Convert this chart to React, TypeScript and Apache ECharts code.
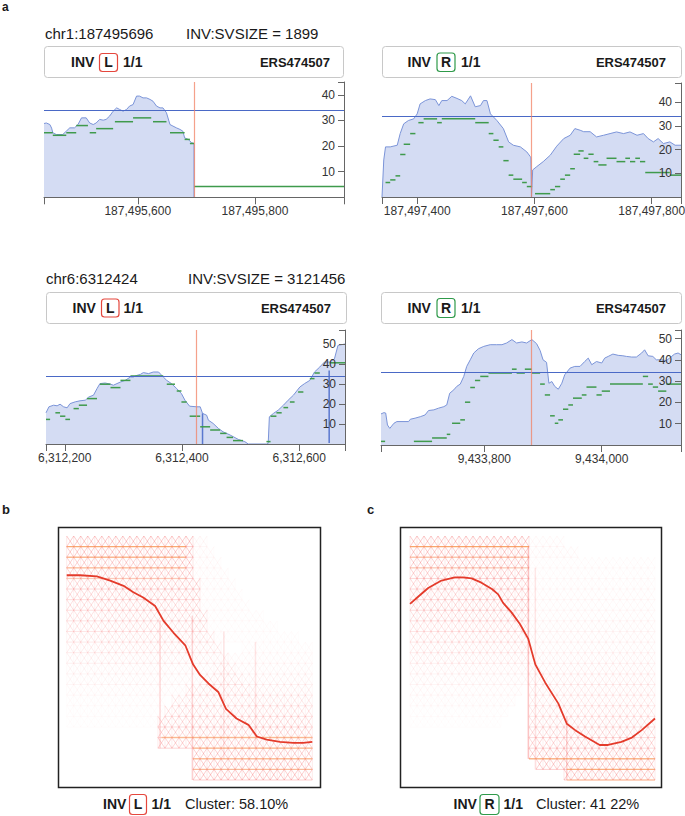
import React, { useEffect, useRef } from "react";
import * as echarts from "echarts";

const FONT = '"Liberation Sans", Arial, Helvetica, sans-serif';

// ---------------- Panel a: four read-depth plots ----------------
const regionStart = [187495440, 187497340, 6312168, 9433624];
const regionEnd = [187495952, 187497850, 6312678, 9434135];
const depthMax = [45, 48, 57, 54];
const meanDepth = [33.9, 33.9, 34.0, 34.2];
const breakpoint = [187495696, 187497595, 6312424, 9433880];
const xTickLabels = [
  [187495600, 187495800],
  [187497400, 187497600, 187497800],
  [6312200, 6312400, 6312600],
  [9433800, 9434000],
];
const yTickLabels = [
  [10, 20, 30, 40],
  [10, 20, 30, 40],
  [10, 20, 30, 40, 50],
  [10, 20, 30, 40, 50],
];
const titles = ["chr1:187495696", "chr6:6312424"];
const svsizes = ["INV:SVSIZE = 1899", "INV:SVSIZE = 3121456"];
const sides = ["L", "R", "L", "R"];
const sampleName = "ERS474507";
const genotype = "1/1";

// coverage: [offset from region start (bp), depth]
const coverage1 = [
  [0, 28.8], [4, 29.0], [10, 28.4], [13, 27.0], [15, 25.2], [21, 24.5], [32, 24.5], [38, 25.8],
  [44, 27.1], [52, 27.1], [58, 28.4], [64, 31.0], [72, 31.0], [78, 29.0], [84, 28.4], [89, 29.0],
  [95, 30.4], [101, 30.1], [106, 30.4], [112, 31.7], [118, 33.6], [124, 34.9], [129, 34.3], [135, 33.6],
  [141, 34.3], [146, 35.6], [152, 36.2], [158, 39.5], [163, 39.5], [169, 38.8], [175, 38.8], [181, 38.2],
  [186, 37.5], [192, 35.6], [198, 34.9], [203, 34.9], [209, 33.0], [215, 28.4], [220, 27.8], [226, 27.1],
  [232, 26.5], [237, 25.8], [240, 23.2], [246, 22.6], [252, 21.3], [256, 21.0], [256, 0],
];
const coverage2 = [
  [0, 0], [3, 15.6], [6, 21.1], [14, 21.1], [26, 21.8], [31, 26.7], [37, 30.8], [45, 32.2],
  [54, 32.9], [60, 35.0], [65, 39.2], [74, 40.6], [82, 41.3], [91, 41.0], [97, 38.5], [102, 40.6],
  [111, 40.6], [119, 42.4], [128, 41.5], [136, 40.6], [142, 39.2], [151, 42.6], [159, 38.0], [168, 38.5],
  [173, 40.6], [179, 40.6], [185, 35.0], [196, 32.2], [207, 28.8], [216, 23.2], [224, 21.8], [236, 21.1],
  [247, 19.0], [253, 17.0], [254, 16.5], [255, 0], [257, 11.4], [264, 12.8], [275, 14.9], [287, 17.6],
  [298, 21.4], [310, 24.6], [321, 26.0], [329, 28.8], [338, 28.1], [344, 27.5], [355, 27.5], [366, 25.3],
  [378, 26.0], [389, 26.7], [400, 27.4], [412, 26.7], [423, 27.4], [435, 26.0], [446, 26.7], [454, 24.6],
  [463, 23.2], [471, 24.6], [480, 22.5], [491, 23.2], [500, 21.8], [510, 21.8],
];
const coverage3 = [
  [0, 15.6], [5, 18.6], [13, 19.4], [19, 19.1], [24, 19.9], [30, 18.6], [36, 18.1], [41, 20.2],
  [50, 21.1], [58, 21.6], [67, 21.9], [73, 23.5], [81, 24.4], [87, 27.7], [92, 30.2], [101, 30.5],
  [110, 29.9], [115, 29.4], [121, 30.2], [127, 31.0], [135, 31.8], [144, 33.5], [149, 33.5], [155, 34.3],
  [161, 34.8], [166, 35.7], [175, 35.2], [183, 36.0], [192, 36.0], [200, 33.5], [206, 31.8], [214, 30.2],
  [223, 27.7], [231, 25.2], [237, 21.9], [245, 18.9], [257, 18.6], [263, 18.6], [267, 15.3], [274, 14.4],
  [277, 11.9], [285, 10.3], [294, 7.8], [302, 6.1], [314, 4.5], [328, 2.3], [339, 1.2], [345, 0],
  [376, 0], [379, 0.3], [381, 13.6], [388, 15.3], [396, 16.9], [405, 19.4], [413, 21.9], [422, 24.4],
  [433, 28.5], [441, 30.2], [450, 31.8], [458, 36.0], [467, 38.5], [475, 41.0], [484, 41.0], [492, 42.6],
  [498, 49.3], [510, 50.0],
];
const coverage4 = [
  [0, 14.6], [5, 15.2], [8, 15.0], [11, 9.4], [15, 7.8], [22, 10.2], [27, 11.0], [47, 11.0],
  [50, 12.1], [58, 12.6], [67, 13.3], [75, 14.1], [81, 16.2], [90, 16.5], [98, 17.3], [107, 18.0],
  [112, 18.8], [117, 24.3], [124, 25.9], [129, 27.5], [135, 28.6], [141, 32.2], [146, 36.9], [152, 40.0],
  [158, 43.2], [166, 45.2], [175, 46.3], [186, 47.1], [197, 47.1], [206, 47.1], [214, 47.9], [223, 49.5],
  [231, 47.9], [240, 48.4], [248, 47.9], [257, 49.5], [265, 47.6], [271, 44.4], [276, 40.0], [282, 38.8],
  [286, 29.0], [291, 29.8], [296, 27.5], [302, 26.2], [308, 29.0], [313, 33.0], [322, 36.1], [330, 36.9],
  [339, 36.9], [347, 39.2], [353, 40.8], [359, 37.7], [367, 39.2], [376, 38.5], [381, 40.8], [387, 41.6],
  [395, 42.7], [404, 42.1], [412, 41.9], [418, 41.6], [427, 41.3], [435, 41.3], [444, 43.2], [449, 44.7],
  [455, 41.9], [463, 41.6], [469, 40.0], [478, 40.0], [486, 39.6], [495, 41.6], [500, 42.7], [506, 43.2],
  [511, 42.4],
];
const coverages = [coverage1, coverage2, coverage3, coverage4];

// green split-read segments: [start offset, end offset, level]
const segments1 = [
  [0, 15, 25.2], [15, 38, 24.2], [38, 55, 25.2], [55, 75, 28.0], [78, 89, 25.2], [89, 118, 26.8],
  [121, 152, 29.5], [152, 183, 31.0], [186, 209, 29.5], [215, 240, 25.2], [240, 249, 22.6], [249, 256, 21.0],
  [256, 512, 4.2],
];
const segments2 = [
  [6, 14, 6.1], [14, 23, 7.2], [23, 31, 8.9], [31, 40, 17.9], [37, 48, 22.2], [48, 57, 26.7],
  [62, 71, 31.3], [71, 94, 32.9], [94, 102, 31.3], [102, 159, 32.9], [159, 182, 31.3], [182, 190, 26.7],
  [190, 199, 23.9], [199, 207, 21.1], [207, 216, 15.3], [216, 224, 9.2], [224, 239, 7.5], [239, 247, 6.1],
  [247, 256, 4.4], [261, 287, 1.4], [287, 295, 3.1], [295, 304, 4.4], [304, 312, 7.5], [312, 321, 9.2],
  [321, 329, 11.9], [327, 338, 18.0], [335, 344, 19.4], [344, 352, 16.3], [352, 361, 18.0], [361, 369, 14.9],
  [369, 383, 13.5], [383, 400, 16.3], [400, 415, 14.9], [415, 423, 16.3], [423, 432, 14.9], [432, 440, 16.3],
  [440, 449, 14.9], [449, 477, 10.3], [477, 491, 10.3], [491, 510, 9.2],
];
const segments3 = [
  [0, 7, 12.3], [16, 24, 15.6], [24, 33, 13.9], [33, 41, 12.3], [47, 56, 17.7], [56, 70, 19.4],
  [70, 87, 22.7], [92, 110, 29.9], [110, 127, 28.2], [127, 144, 31.8], [144, 200, 34.0], [206, 220, 29.9],
  [223, 231, 26.5], [231, 240, 21.0], [245, 263, 13.9], [263, 280, 8.6], [280, 297, 7.0], [297, 308, 5.3],
  [308, 319, 3.3], [319, 336, 1.7], [376, 383, 1.2], [383, 393, 13.9], [393, 402, 15.6], [405, 413, 18.2],
  [416, 424, 21.0], [430, 439, 26.0], [450, 458, 32.7], [458, 467, 35.5], [484, 510, 40.6],
];
const segments4 = [
  [0, 7, 1.7], [56, 87, 1.7], [87, 112, 3.3], [112, 118, 5.0], [121, 135, 10.2], [135, 143, 11.8],
  [143, 152, 20.1], [152, 160, 27.0], [160, 169, 30.3], [169, 183, 32.2], [183, 223, 33.8], [223, 231, 35.6],
  [231, 245, 33.8], [245, 257, 35.6], [257, 271, 33.8], [271, 279, 28.6], [279, 288, 23.5], [288, 296, 13.7],
  [296, 302, 10.2], [302, 310, 11.8], [310, 319, 16.8], [319, 327, 18.8], [327, 342, 22.0], [342, 350, 23.5],
  [350, 367, 27.2], [367, 376, 23.5], [376, 390, 25.3], [390, 446, 28.6], [446, 455, 32.2], [455, 463, 28.6],
  [463, 472, 27.2], [472, 486, 25.3], [486, 511, 28.6],
];
const segmentsAll = [segments1, segments2, segments3, segments4];

// dark blue vertical depth strokes in the chr6 left plot: [offset, from, to]
const depthBars3 = [[267, 0, 15.3], [483, 0.5, 36.8]];

// ---------------- Panels b and c: read-depth cluster profiles ----------------
const clusterLabels = ["Cluster: 58.10%", "Cluster: 41 22%"];
// mean cluster profile: [position, level]
const meanProfileB = [
  [0, 19.3], [1.9, 19.3], [4.3, 19.2], [6.2, 18.8], [8.1, 18.3], [9.5, 17.7], [10.9, 17.2], [12.6, 16.4],
  [13.8, 15.0], [15.2, 13.9], [16.9, 12.7], [18.0, 10.9], [19.0, 9.9], [20.2, 9.1], [21.6, 8.3], [22.7, 6.7],
  [24.2, 5.8], [25.9, 5.2], [27.1, 4.1], [28.5, 3.8], [30.4, 3.6], [32.3, 3.5], [33.7, 3.5], [35, 3.6],
];
const meanProfileC = [
  [0, 16.6], [1.2, 17.3], [2.6, 18.1], [4.5, 18.8], [6.4, 19.1], [7.6, 19.1], [8.8, 19.0], [10.2, 18.6],
  [11.7, 18.0], [12.6, 17.5], [13.3, 16.7], [14.5, 15.8], [15.7, 14.7], [16.9, 13.3], [17.9, 10.9], [19.3, 9.2],
  [21.2, 7.2], [22.4, 5.3], [23.6, 4.7], [25, 4.1], [27.1, 3.3], [28.3, 3.3], [30.2, 3.6], [31.7, 4.0],
  [33.1, 4.7], [35, 5.8],
];
// member profile density bands: [level, from, to, density]
const bandsB = [
  [22, 0, 18, 0.28], [21, 0, 18, 0.28], [20, 0, 18, 0.26], [19, 0, 18, 0.24], [18, 0, 19, 0.22], [17, 0, 19, 0.2],
  [16, 0, 19, 0.18], [15, 0, 20, 0.16], [14, 0, 20, 0.14], [13, 0, 21, 0.12], [12, 0, 22, 0.1], [11, 0, 23, 0.08],
  [10, 0, 24, 0.06], [9, 0, 25, 0.05], [8, 0, 26, 0.04], [7, 0, 14, 0.03], [6, 0, 14, 0.025], [5, 0, 14, 0.02],
  [22, 18, 20, 0.05], [21, 18, 21, 0.04], [20, 18, 22, 0.04], [19, 18, 23, 0.035], [18, 19, 24, 0.035],
  [17, 19, 25, 0.03], [16, 19, 26, 0.03], [15, 20, 28, 0.03], [14, 20, 30, 0.025], [13, 21, 33, 0.025],
  [0, 18, 35, 0.28], [1, 18, 35, 0.28], [2, 18, 35, 0.26], [3, 13, 35, 0.24], [4, 13, 35, 0.21], [5, 13, 35, 0.18],
  [6, 14, 35, 0.15], [7, 15, 35, 0.12], [8, 17, 35, 0.09], [9, 19, 35, 0.07], [10, 21, 35, 0.05], [11, 23, 35, 0.04],
  [12, 25, 35, 0.03],
];
const bandsC = [
  [22, 0, 17, 0.28], [21, 0, 17, 0.28], [20, 0, 17, 0.26], [19, 0, 17, 0.24], [18, 0, 17, 0.22], [17, 0, 17, 0.2],
  [16, 0, 17, 0.19], [15, 0, 17, 0.17], [14, 0, 17, 0.15], [13, 0, 17, 0.13], [12, 0, 17, 0.11], [11, 0, 17, 0.09],
  [10, 0, 17, 0.07], [9, 0, 17, 0.055], [8, 0, 16, 0.045], [7, 0, 15, 0.035], [6, 0, 14, 0.025], [5, 0, 13, 0.02],
  [22, 17, 22, 0.04], [21, 17, 24, 0.04], [20, 17, 35, 0.03], [19, 17, 35, 0.03], [18, 17, 35, 0.035],
  [17, 17, 35, 0.04], [16, 17, 35, 0.04], [15, 17, 35, 0.045], [14, 17, 35, 0.05], [13, 17, 35, 0.055],
  [12, 17, 35, 0.06], [11, 17, 35, 0.07], [10, 17, 35, 0.08],
  [0, 22, 35, 0.28], [1, 18, 35, 0.27], [2, 17, 35, 0.25], [3, 17, 35, 0.22], [4, 17, 35, 0.19], [5, 17, 35, 0.16],
  [6, 17, 35, 0.13], [7, 17, 35, 0.11], [8, 17, 35, 0.1], [9, 17, 35, 0.09],
];
// frequent exact profiles (orange): [level, from, to, weight]
const plateausB = [
  [22, 0, 17, 0.7], [21, 0, 17, 0.5], [20, 0, 17, 0.45], [19, 0, 17, 0.2],
  [4, 13.5, 35, 0.5], [3, 18, 35, 0.55], [2, 18, 35, 0.45], [1, 18, 35, 0.4],
];
const plateausC = [
  [22, 0, 17, 0.75], [21, 0, 17, 0.3], [20, 0, 17, 0.25],
  [2, 17, 35, 0.55], [1, 22.4, 35, 0.6], [0, 22.4, 35, 0.35],
];
// vertical jumps: [position, from, to, weight]
const jumpsB = [[13.3, 3, 15, 0.22], [17.9, 0, 15.5, 0.22], [22.4, 2, 14, 0.16], [26.9, 3, 13, 0.13]];
const jumpsC = [[16.9, 2, 22, 0.3], [17.9, 1, 20, 0.13], [22.4, 0, 6, 0.25]];
const profileXMax = 35;
const profileYMax = 23;

// ---------------- helpers ----------------
const fmtThousands = (v: number) => String(Math.round(v)).replace(/\B(?=(\d{3})+(?!\d))/g, ",");

const segRender = (color: string, width: number) => (params: any, api: any) => {
  const p1 = api.coord([api.value(0), api.value(1)]);
  const p2 = api.coord([api.value(2), api.value(3)]);
  return {
    type: "line",
    shape: { x1: p1[0], y1: p1[1], x2: p2[0], y2: p2[1] },
    style: { stroke: color, lineWidth: width },
  };
};

const HATCH = "245,80,80";
const hatchRender = (params: any, api: any) => {
  const k = api.value(0);
  const xs = api.value(1);
  const xe = api.value(2);
  const a = api.value(3);
  const stroke = `rgba(${HATCH},${a})`;
  const i0 = Math.ceil(xs);
  const i1 = Math.floor(xe);
  let d = "";
  const h1 = api.coord([xs, k]);
  const h2 = api.coord([xe, k]);
  d += `M${h1[0]} ${h1[1]}L${h2[0]} ${h2[1]}`;
  for (let i = i0; i < i1; i++) {
    const a0 = api.coord([i, k]);
    const a1 = api.coord([i + 1, k + 1]);
    const b0 = api.coord([i, k + 1]);
    const b1 = api.coord([i + 1, k]);
    d += `M${a0[0]} ${a0[1]}L${a1[0]} ${a1[1]}M${b0[0]} ${b0[1]}L${b1[0]} ${b1[1]}`;
  }
  let dv = "";
  for (let i = i0; i <= i1; i++) {
    const v0 = api.coord([i, k]);
    const v1 = api.coord([i, k + 1]);
    dv += `M${v0[0]} ${v0[1]}L${v1[0]} ${v1[1]}`;
  }
  return {
    type: "group",
    children: [
      { type: "path", shape: { pathData: d }, style: { stroke, lineWidth: 1, fill: "none" } },
      { type: "path", shape: { pathData: dv }, style: { stroke: `rgba(${HATCH},${a * 0.45})`, lineWidth: 1, fill: "none" } },
    ],
  };
};

const plateauRender = (params: any, api: any) => {
  const k = api.value(0);
  const p1 = api.coord([api.value(1), k]);
  const p2 = api.coord([api.value(2), k]);
  return {
    type: "line",
    shape: { x1: p1[0], y1: p1[1], x2: p2[0], y2: p2[1] },
    style: { stroke: `rgba(248,150,75,${api.value(3)})`, lineWidth: 1.4 },
  };
};

const jumpRender = (params: any, api: any) => {
  const x = api.value(0);
  const p1 = api.coord([x, api.value(1)]);
  const p2 = api.coord([x, api.value(2)]);
  return {
    type: "line",
    shape: { x1: p1[0], y1: p1[1], x2: p2[0], y2: p2[1] },
    style: { stroke: `rgba(${HATCH},${api.value(3)})`, lineWidth: 1.5 },
  };
};

const txt = (text: string, x: number, y: number, size: number, weight: string, align = "left", color = "#1a1a1a") => ({
  type: "text",
  x,
  y,
  silent: true,
  z: 20,
  style: { text, fill: color, fontSize: size, fontWeight: weight, fontFamily: FONT, align, verticalAlign: "middle" },
});
const box = (x: number, y: number, w: number, h: number, stroke: string, lw = 1) => ({
  type: "rect",
  silent: true,
  z: 20,
  shape: { x, y, width: w, height: h, r: 3 },
  style: { fill: "none", stroke, lineWidth: lw },
});

export default function App() {
  const ref = useRef<HTMLDivElement>(null);
  useEffect(() => {
    if (!ref.current) return;
    const chart = echarts.init(ref.current, undefined, { renderer: "svg" });

    const gridRects = [
      { left: 44, top: 82, width: 300, height: 115.3 },
      { left: 382, top: 83, width: 299, height: 114 },
      { left: 46, top: 330, width: 299, height: 114 },
      { left: 381, top: 330, width: 300, height: 115 },
      { left: 66.7, top: 536, width: 245.6, height: 244 },
      { left: 410, top: 536, width: 245, height: 244 },
    ];
    const grid = gridRects.map((g) => ({ ...g, containLabel: false, outerBoundsMode: "none", show: false }));

    const axisColor = "#666";
    const xAxis: any[] = [];
    const yAxis: any[] = [];
    const series: any[] = [];

    for (let i = 0; i < 4; i++) {
      xAxis.push({
        type: "value",
        gridIndex: i,
        min: regionStart[i],
        max: regionEnd[i],
        position: "bottom",
        z: 10,
        axisLine: { show: true, onZero: false, lineStyle: { color: axisColor, width: 1 } },
        axisTick: {
          show: true,
          length: 7,
          lineStyle: { color: axisColor },
          customValues: [regionStart[i], ...xTickLabels[i], regionEnd[i]],
        },
        axisLabel: {
          customValues: xTickLabels[i],
          formatter: fmtThousands,
          margin: 8,
          color: "#333",
          fontSize: 12,
          fontFamily: FONT,
        },
        splitLine: { show: false },
      });
      yAxis.push({
        type: "value",
        gridIndex: i,
        position: "right",
        min: 0,
        max: depthMax[i],
        z: 10,
        axisLine: { show: true, onZero: false, lineStyle: { color: axisColor, width: 1 } },
        axisTick: {
          show: true,
          inside: true,
          length: 6,
          lineStyle: { color: axisColor },
          customValues: [...yTickLabels[i], depthMax[i]],
        },
        axisLabel: {
          inside: true,
          customValues: yTickLabels[i],
          margin: 9,
          color: "#333",
          fontSize: 12,
          fontFamily: FONT,
        },
        splitLine: { show: false },
      });
      series.push({
        type: "line",
        xAxisIndex: i,
        yAxisIndex: i,
        data: coverages[i].map(([o, v]) => [regionStart[i] + o, v]),
        symbol: "none",
        showSymbol: false,
        lineStyle: { color: "#7b94d8", width: 1 },
        areaStyle: { color: "#d4dcf3", opacity: 1 },
        z: 2,
        markLine: {
          silent: true,
          symbol: "none",
          label: { show: false },
          data: [
            { yAxis: meanDepth[i], lineStyle: { color: "#4a69c6", width: 1.2, type: "solid" } },
            { xAxis: breakpoint[i], lineStyle: { color: "rgba(242,130,100,0.75)", width: 1.2, type: "solid" } },
          ],
        },
      });
      series.push({
        type: "custom",
        xAxisIndex: i,
        yAxisIndex: i,
        data: segmentsAll[i].map(([a, b, d]) => [regionStart[i] + a, d, regionStart[i] + b, d]),
        encode: { x: [0, 2], y: [1, 3] },
        renderItem: segRender("#3f9a4c", 1.5),
        z: 4,
        silent: true,
      });
    }
    series.push({
      type: "custom",
      xAxisIndex: 2,
      yAxisIndex: 2,
      data: depthBars3.map(([o, a, b]) => [regionStart[2] + o, a, regionStart[2] + o, b]),
      encode: { x: [0, 2], y: [1, 3] },
      renderItem: segRender("#5a78cf", 1.5),
      z: 3,
      silent: true,
    });

    const profiles = [
      { mean: meanProfileB, bands: bandsB, plateaus: plateausB, jumps: jumpsB },
      { mean: meanProfileC, bands: bandsC, plateaus: plateausC, jumps: jumpsC },
    ];
    profiles.forEach((p, j) => {
      const gi = 4 + j;
      xAxis.push({ type: "value", gridIndex: gi, min: 0, max: profileXMax, show: false });
      yAxis.push({ type: "value", gridIndex: gi, min: 0, max: profileYMax, show: false });
      series.push({
        type: "custom",
        xAxisIndex: gi,
        yAxisIndex: gi,
        data: p.bands,
        encode: { x: [1, 2], y: 0 },
        renderItem: hatchRender,
        silent: true,
        z: 1,
      });
      series.push({
        type: "custom",
        xAxisIndex: gi,
        yAxisIndex: gi,
        data: p.jumps,
        encode: { x: 0, y: [1, 2] },
        renderItem: jumpRender,
        silent: true,
        z: 2,
      });
      series.push({
        type: "custom",
        xAxisIndex: gi,
        yAxisIndex: gi,
        data: p.plateaus,
        encode: { x: [1, 2], y: 0 },
        renderItem: plateauRender,
        silent: true,
        z: 2,
      });
      series.push({
        type: "line",
        xAxisIndex: gi,
        yAxisIndex: gi,
        data: p.mean,
        symbol: "none",
        showSymbol: false,
        lineStyle: { color: "#e43b2b", width: 1.8 },
        z: 5,
      });
    });

    const red = "#e5473d";
    const green = "#2f9a4a";
    const graphic: any[] = [
      txt("a", 2, 6.5, 12, "bold"),
      txt("b", 2, 509, 13, "bold"),
      txt("c", 367, 509, 13, "bold"),
      // titles
      txt(titles[0], 45, 33, 15, "normal"),
      txt(svsizes[0], 186, 33, 15, "normal"),
      txt(titles[1], 46, 278, 15, "normal"),
      txt(svsizes[1], 188, 278, 15, "normal"),
    ];
    const headers = [
      { bx: 44.5, by: 46.5, bw: 299, inv: 71, sx: 99.5, sy: 53.5, sw: 18, sh: 18, gt: 123, ers: 330, ym: 62 },
      { bx: 382.5, by: 46.5, bw: 299, inv: 407.5, sx: 437, sy: 53, sw: 18, sh: 18.5, gt: 461, ers: 666, ym: 62 },
      { bx: 46.5, by: 292.5, bw: 300, inv: 72.5, sx: 101.5, sy: 299, sw: 17.5, sh: 18, gt: 123.5, ers: 331, ym: 308 },
      { bx: 381.5, by: 292.5, bw: 300, inv: 407.5, sx: 437, sy: 298.5, sw: 18, sh: 19, gt: 461, ers: 666, ym: 308 },
    ];
    headers.forEach((h, i) => {
      const c = sides[i] === "L" ? red : green;
      graphic.push(box(h.bx, h.by, h.bw, 31, "#c8c8c8", 1));
      graphic.push(txt("INV", h.inv, h.ym, 14, "bold"));
      graphic.push(box(h.sx, h.sy, h.sw, h.sh, c, 1.2));
      graphic.push(txt(sides[i], h.sx + h.sw / 2, h.ym, 14, "bold", "center"));
      graphic.push(txt(genotype, h.gt, h.ym, 14, "bold"));
      graphic.push(txt(sampleName, h.ers, h.ym, 13, "bold", "right"));
    });
    // frames for b and c
    graphic.push({ type: "rect", silent: true, z: 20, shape: { x: 58.5, y: 527.5, width: 262, height: 260 }, style: { fill: "none", stroke: "#222", lineWidth: 1.5 } });
    graphic.push({ type: "rect", silent: true, z: 20, shape: { x: 400.5, y: 527.5, width: 261, height: 260 }, style: { fill: "none", stroke: "#222", lineWidth: 1.5 } });
    const footers = [
      { inv: 103, sx: 129.5, sw: 17, side: "L", gt: 151.5, cl: 185 },
      { inv: 453.5, sx: 480, sw: 19, side: "R", gt: 503.5, cl: 536 },
    ];
    footers.forEach((f, j) => {
      const c = f.side === "L" ? red : green;
      graphic.push(txt("INV", f.inv, 804, 14, "bold"));
      graphic.push(box(f.sx, 794.5, f.sw, 20, c, 1.2));
      graphic.push(txt(f.side, f.sx + f.sw / 2, 804, 14, "bold", "center"));
      graphic.push(txt(genotype, f.gt, 804, 14, "bold"));
      graphic.push(txt(clusterLabels[j], f.cl, 804, 14.5, "normal"));
    });

    chart.setOption({
      animation: false,
      backgroundColor: "#ffffff",
      grid,
      xAxis,
      yAxis,
      series,
      graphic: { elements: graphic },
    });
    return () => chart.dispose();
  }, []);

  return (
    <div
      ref={ref}
      style={{ position: "absolute", left: 0, top: 0, width: 685, height: 816, background: "#fff" }}
    />
  );
}
